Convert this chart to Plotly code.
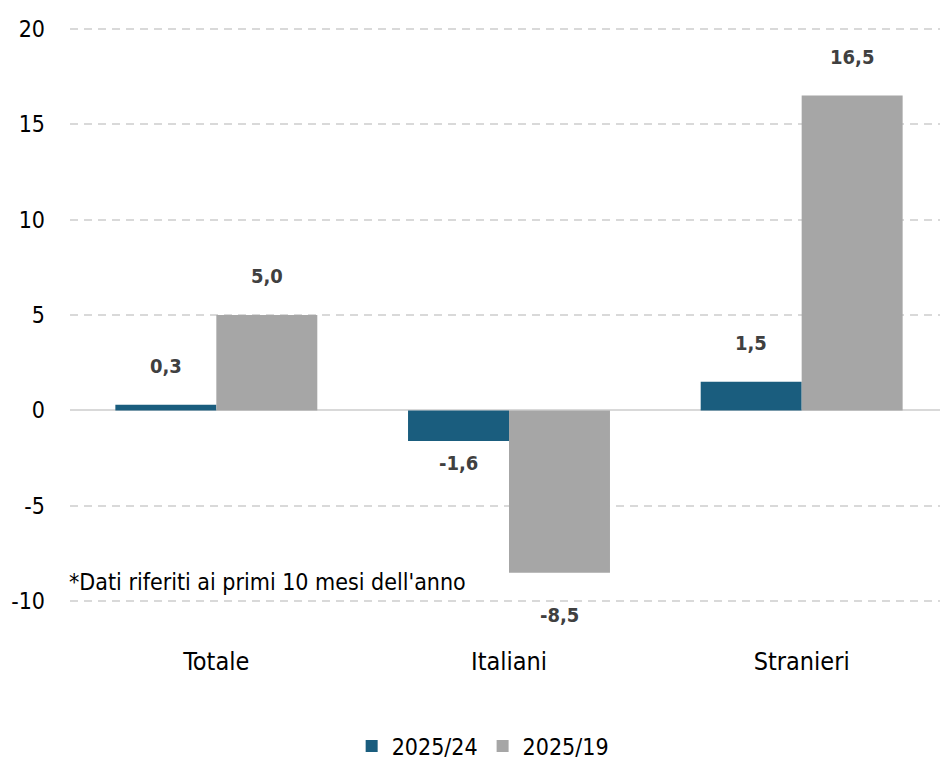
import plotly.graph_objects as go

categories = ["Totale", "Italiani", "Stranieri"]
series_names = ["2025/24", "2025/19"]
values_2025_24 = [0.3, -1.6, 1.5]
values_2025_19 = [5.0, -8.5, 16.5]
label_texts_24 = ["0,3", "-1,6", "1,5"]
label_texts_19 = ["5,0", "-8,5", "16,5"]
y_ticks = [-10, -5, 0, 5, 10, 15, 20]
footnote = "*Dati riferiti ai primi 10 mesi dell'anno"

FONT = "DejaVu Sans Condensed"
C1 = "#1a5d7e"
C2 = "#a6a6a6"

fig = go.Figure()
fig.add_trace(go.Bar(x=categories, y=values_2025_24, name=series_names[0],
                     marker=dict(color=C1, line=dict(width=0))))
fig.add_trace(go.Bar(x=categories, y=values_2025_19, name=series_names[1],
                     marker=dict(color=C2, line=dict(width=0))))

# data labels
for idx, (vals, texts) in enumerate([(values_2025_24, label_texts_24), (values_2025_19, label_texts_19)]):
    for i, (c, v, t) in enumerate(zip(categories, vals, texts)):
        shift = 39 if v >= 0 else (-22 if abs(v) < 5 else -42)
        fig.add_annotation(x=c, y=v, text=t, showarrow=False,
                           xref="x", yref="y",
                           xshift=(-50.5 if idx == 0 else 50.5),
                           yshift=shift,
                           font=dict(family=FONT, size=20, color="#404040", weight="bold"))

fig.add_annotation(x=-0.003, xref="paper", xanchor="left", y=-9.0, yref="y",
                   text=footnote, showarrow=False,
                   font=dict(family=FONT, size=23, color="#000000"))

# the page body adds an 8px offset; the figure is sized to fill the window from there
fig.update_layout(
    width=940, height=754,
    margin=dict(l=62, r=0, t=15, b=155, autoexpand=False),
    paper_bgcolor="white", plot_bgcolor="white",
    barmode="group", bargap=0.31, bargroupgap=0,
    font=dict(family=FONT, color="#000000"),
    showlegend=True,
    legend=dict(orientation="h", x=0.47, xanchor="center", y=-0.238, yanchor="middle",
                yref="paper", font=dict(family=FONT, size=23, color="#000000"),
                itemwidth=30, traceorder="normal"),
)
fig.update_xaxes(showgrid=False, showline=False, ticks="", zeroline=False,
                 automargin=False,
                 tickfont=dict(family=FONT, size=25, color="#000000"),
                 ticklabelstandoff=37)
fig.update_yaxes(range=[-10.3, 20.3], tickvals=y_ticks, ticktext=[str(v) for v in y_ticks],
                 showgrid=True, gridcolor="#d9d9d9", gridwidth=2, griddash="8px,6px",
                 zeroline=True, zerolinecolor="#d9d9d9", zerolinewidth=2,
                 showline=False, ticks="", automargin=False,
                 tickfont=dict(family=FONT, size=23, color="#000000"),
                 ticklabelstandoff=24)
for tr in fig.data:
    tr.cliponaxis = False

fig.write_html("out.html")
